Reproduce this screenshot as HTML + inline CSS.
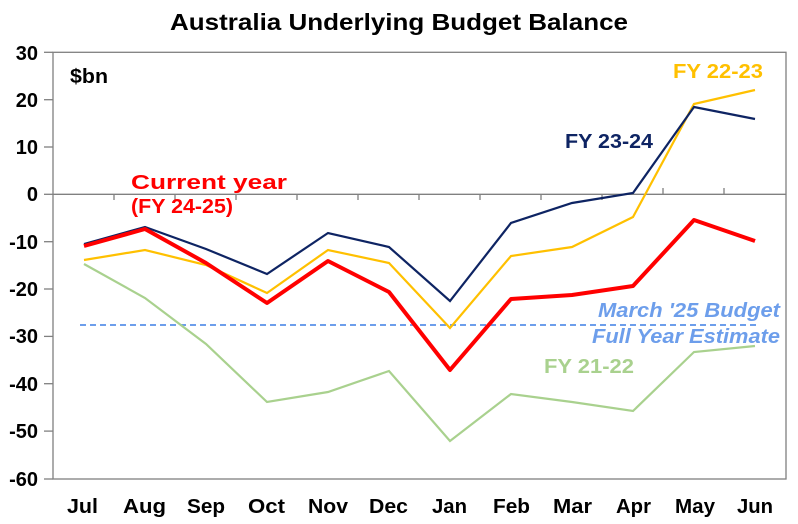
<!DOCTYPE html>
<html><head><meta charset="utf-8"><style>
body{margin:0;background:#fff;}
text{font-family:"Liberation Sans",Arial,sans-serif;font-weight:bold;}
</style></head><body>
<svg width="798" height="519" viewBox="0 0 798 519" xmlns="http://www.w3.org/2000/svg">
<rect width="798" height="519" fill="#fff"/>
<text x="170" y="30" font-size="23" textLength="458" lengthAdjust="spacingAndGlyphs" fill="#000">Australia Underlying Budget Balance</text>
<g stroke="#808080" stroke-width="1.3" fill="none">
<rect x="53" y="52.3" width="733" height="426.7"/>
<line x1="53" y1="194.3" x2="786" y2="194.3"/>
<line x1="44" y1="52.3" x2="53" y2="52.3"/>
<line x1="44" y1="99.7" x2="53" y2="99.7"/>
<line x1="44" y1="147" x2="53" y2="147"/>
<line x1="44" y1="194.3" x2="53" y2="194.3"/>
<line x1="44" y1="241.7" x2="53" y2="241.7"/>
<line x1="44" y1="289" x2="53" y2="289"/>
<line x1="44" y1="336.4" x2="53" y2="336.4"/>
<line x1="44" y1="383.7" x2="53" y2="383.7"/>
<line x1="44" y1="431.1" x2="53" y2="431.1"/>
<line x1="44" y1="479" x2="53" y2="479"/>
<path d="M114 194v6M175 194v6M236 194v6M297 194v6M358 194v6M419 194v6M480 194v6M541 194v6M602 194v6M663 194v-6M724 194v-6"/>
</g>
<g font-size="20" text-anchor="end" fill="#000">
<text x="38" y="60">30</text><text x="38" y="107">20</text><text x="38" y="154">10</text>
<text x="38" y="201">0</text><text x="38" y="249">-10</text><text x="38" y="296">-20</text>
<text x="38" y="343">-30</text><text x="38" y="391">-40</text><text x="38" y="438">-50</text>
<text x="38" y="486">-60</text>
</g>
<g font-size="20" fill="#000">
<text x="67" y="513" textLength="31" lengthAdjust="spacingAndGlyphs">Jul</text>
<text x="123" y="513" textLength="43" lengthAdjust="spacingAndGlyphs">Aug</text>
<text x="187" y="513" textLength="38" lengthAdjust="spacingAndGlyphs">Sep</text>
<text x="248" y="513" textLength="37" lengthAdjust="spacingAndGlyphs">Oct</text>
<text x="308" y="513" textLength="40" lengthAdjust="spacingAndGlyphs">Nov</text>
<text x="369" y="513" textLength="39" lengthAdjust="spacingAndGlyphs">Dec</text>
<text x="432" y="513" textLength="35" lengthAdjust="spacingAndGlyphs">Jan</text>
<text x="493" y="513" textLength="37" lengthAdjust="spacingAndGlyphs">Feb</text>
<text x="553" y="513" textLength="39" lengthAdjust="spacingAndGlyphs">Mar</text>
<text x="616" y="513" textLength="35" lengthAdjust="spacingAndGlyphs">Apr</text>
<text x="675" y="513" textLength="40" lengthAdjust="spacingAndGlyphs">May</text>
<text x="737" y="513" textLength="36" lengthAdjust="spacingAndGlyphs">Jun</text>
</g>
<text x="70" y="83" font-size="20" textLength="38" lengthAdjust="spacingAndGlyphs" fill="#000">$bn</text>
<line x1="80" y1="325" x2="757" y2="325" stroke="#6d9eeb" stroke-width="2" stroke-dasharray="6,4"/>
<polyline fill="none" stroke="#a9d18e" stroke-width="2.2" points="84,264 145,298 206,344 267,402 328,392 389,371 450,441 511,394 572,402 633,411 694,352 755,346"/>
<polyline fill="none" stroke="#ffc000" stroke-width="2.2" points="84,260 145,250 206,265 267,293 328,250 389,263 450,328 511,256 572,247 633,217 694,104 755,90"/>
<polyline fill="none" stroke="#0e2463" stroke-width="2.2" points="84,244 145,227 206,249 267,274 328,233 389,247 450,301 511,223 572,203 633,193 694,107 755,119"/>
<polyline fill="none" stroke="#ff0000" stroke-width="4" stroke-linejoin="round" points="84,246 145,229 206,263 267,303 328,261 389,292 450,370 511,299 572,295 633,286 694,220 755,241"/>
<text x="131" y="189" font-size="20" textLength="156" lengthAdjust="spacingAndGlyphs" fill="#ff0000">Current year</text>
<text x="131" y="213" font-size="20" textLength="102" lengthAdjust="spacingAndGlyphs" fill="#ff0000">(FY 24-25)</text>
<text x="565" y="148" font-size="20" textLength="88" lengthAdjust="spacingAndGlyphs" fill="#0e2463">FY 23-24</text>
<text x="673" y="78" font-size="20" textLength="90" lengthAdjust="spacingAndGlyphs" fill="#ffc000">FY 22-23</text>
<text x="544" y="373" font-size="20" textLength="90" lengthAdjust="spacingAndGlyphs" fill="#a9d18e">FY 21-22</text>
<text x="598" y="317" font-size="20" font-style="italic" textLength="182" lengthAdjust="spacingAndGlyphs" fill="#6d9eeb">March '25 Budget</text>
<text x="592" y="343" font-size="20" font-style="italic" textLength="188" lengthAdjust="spacingAndGlyphs" fill="#6d9eeb">Full Year Estimate</text>
</svg>
</body></html>
